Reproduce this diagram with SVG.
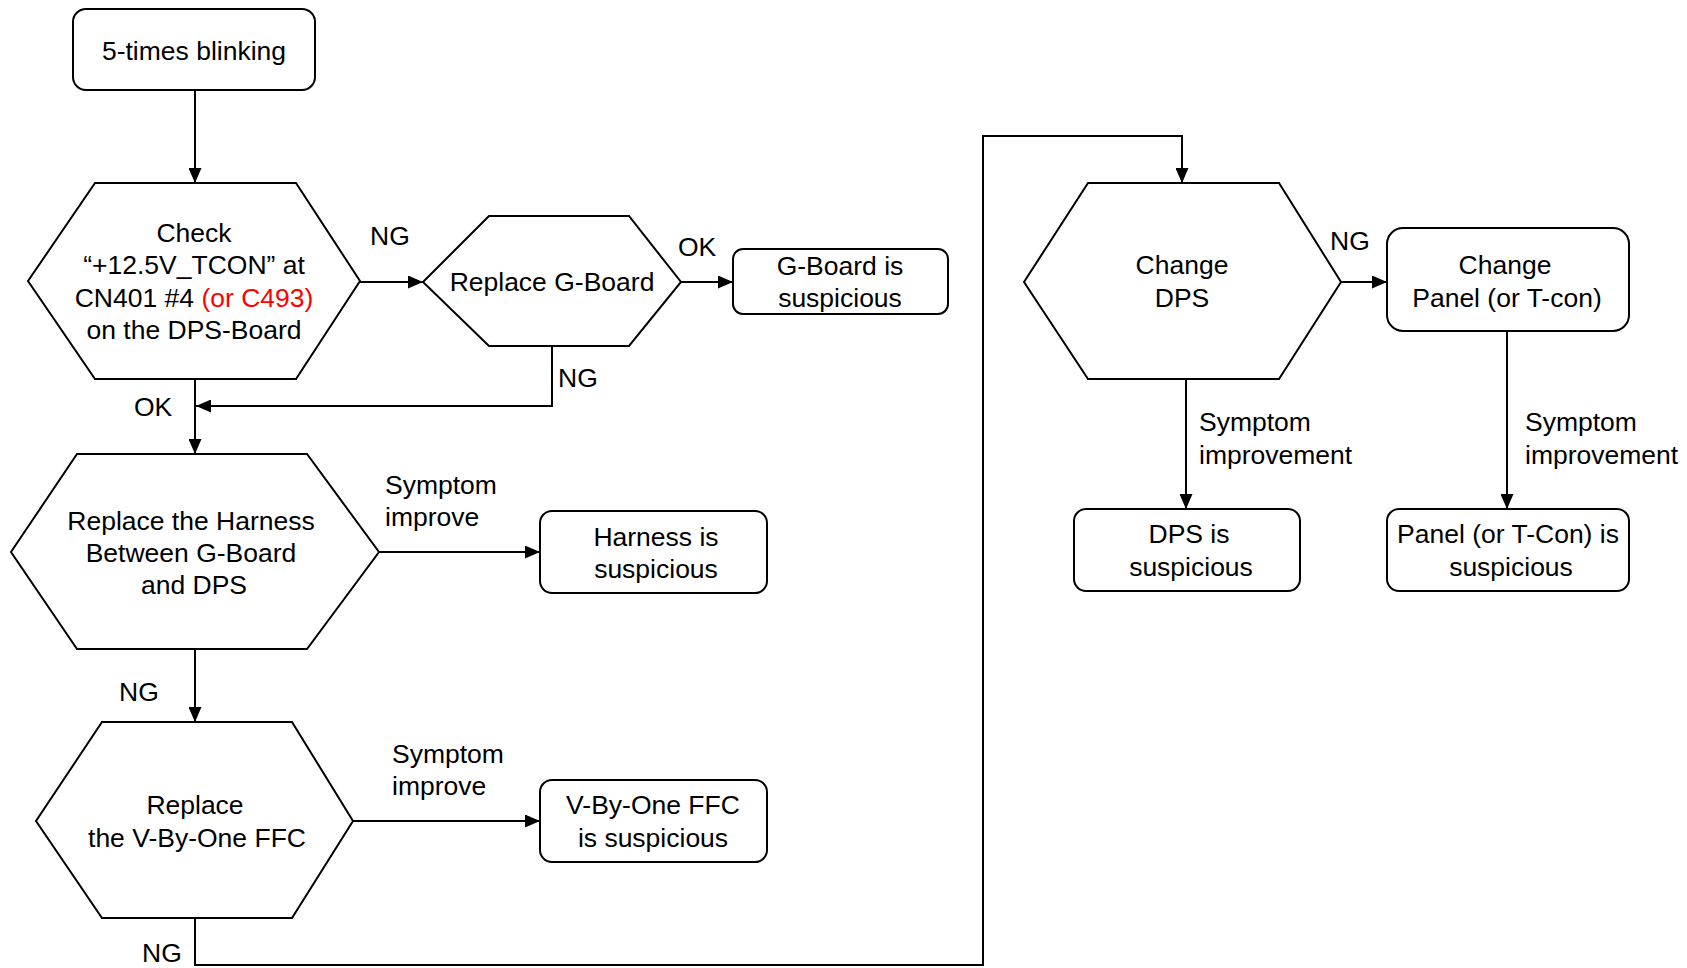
<svg xmlns="http://www.w3.org/2000/svg" width="1687" height="968" viewBox="0 0 1687 968">
<style>
.s{fill:#fff;stroke:#000;stroke-width:2}
.c{fill:none;stroke:#000;stroke-width:2}
text{font-family:"Liberation Sans",Arial,sans-serif;font-size:26.5px;fill:#000}
.m{text-anchor:middle}
.red{fill:#ff0000}
</style>
<defs>
<marker id="arr" markerWidth="15" markerHeight="13" refX="15" refY="6.5" orient="auto" markerUnits="userSpaceOnUse"><path d="M0,0 L15,6.5 L0,13 z" fill="#000"/></marker>
</defs>
<rect width="1687" height="968" fill="#fff"/>
<g id="connectors">
<path class="c" d="M195,90 V183" marker-end="url(#arr)"/>
<path class="c" d="M360,282 H423" marker-end="url(#arr)"/>
<path class="c" d="M681,282 H733" marker-end="url(#arr)"/>
<path class="c" d="M552,346 V406 H196" marker-end="url(#arr)"/>
<path class="c" d="M195,379 V454" marker-end="url(#arr)"/>
<path class="c" d="M379,552 H540" marker-end="url(#arr)"/>
<path class="c" d="M195,649 V722" marker-end="url(#arr)"/>
<path class="c" d="M353,821 H540" marker-end="url(#arr)"/>
<path class="c" d="M195,918 V965 H983 V136 H1182 V183" marker-end="url(#arr)"/>
<path class="c" d="M1341,282 H1387" marker-end="url(#arr)"/>
<path class="c" d="M1186,379 V509" marker-end="url(#arr)"/>
<path class="c" d="M1507,331 V509" marker-end="url(#arr)"/>
<text x="370" y="245">NG</text>
<text x="678" y="256">OK</text>
<text x="558" y="387">NG</text>
<text x="134" y="416">OK</text>
<text x="385" y="494">Symptom</text>
<text x="385" y="526">improve</text>
<text x="119" y="701">NG</text>
<text x="392" y="763">Symptom</text>
<text x="392" y="795">improve</text>
<text x="142" y="962">NG</text>
<text x="1330" y="250">NG</text>
<text x="1199" y="431">Symptom</text>
<text x="1199" y="464">improvement</text>
<text x="1525" y="431">Symptom</text>
<text x="1525" y="464">improvement</text>
</g>
<g id="start">
<rect class="s" x="73" y="9" width="242" height="81" rx="13"/>
<text class="m" x="194" y="60">5-times blinking</text>
</g>
<g id="check">
<polygon class="s" points="95,183 296,183 360,281 296,379 95,379 28,281"/>
<text class="m" x="194" y="242">Check</text>
<text class="m" x="194" y="274">“+12.5V_TCON” at</text>
<text class="m" x="194" y="307">CN401 #4 <tspan class="red">(or C493)</tspan></text>
<text class="m" x="194" y="339">on the DPS-Board</text>
</g>
<g id="replace-gboard">
<polygon class="s" points="489,216 629,216 681,282 629,346 489,346 423,282"/>
<text class="m" x="552" y="291">Replace G-Board</text>
</g>
<g id="gboard-suspicious">
<rect class="s" x="733" y="249" width="215" height="65" rx="10"/>
<text class="m" x="840" y="275">G-Board is</text>
<text class="m" x="840" y="307">suspicious</text>
</g>
<g id="replace-harness">
<polygon class="s" points="77,454 307,454 379,552 307,649 77,649 11,552"/>
<text class="m" x="191" y="530">Replace the Harness</text>
<text class="m" x="191" y="562">Between G-Board</text>
<text class="m" x="194" y="594">and DPS</text>
</g>
<g id="harness-suspicious">
<rect class="s" x="540" y="511" width="227" height="82" rx="12"/>
<text class="m" x="656" y="546">Harness is</text>
<text class="m" x="656" y="578">suspicious</text>
</g>
<g id="replace-vbo">
<polygon class="s" points="102,722 292,722 353,821 292,918 102,918 36,821"/>
<text class="m" x="195" y="814">Replace</text>
<text class="m" x="197" y="847">the V-By-One FFC</text>
</g>
<g id="vbo-suspicious">
<rect class="s" x="540" y="780" width="227" height="82" rx="12"/>
<text class="m" x="653" y="814">V-By-One FFC</text>
<text class="m" x="653" y="847">is suspicious</text>
</g>
<g id="change-dps">
<polygon class="s" points="1088,183 1279,183 1341,282 1279,379 1088,379 1024,282"/>
<text class="m" x="1182" y="274">Change</text>
<text class="m" x="1182" y="307">DPS</text>
</g>
<g id="change-panel">
<rect class="s" x="1387" y="228" width="242" height="103" rx="16"/>
<text class="m" x="1505" y="274">Change</text>
<text class="m" x="1507" y="307">Panel (or T-con)</text>
</g>
<g id="dps-suspicious">
<rect class="s" x="1074" y="509" width="226" height="82" rx="12"/>
<text class="m" x="1189" y="543">DPS is</text>
<text class="m" x="1191" y="576">suspicious</text>
</g>
<g id="panel-suspicious">
<rect class="s" x="1387" y="509" width="242" height="82" rx="12"/>
<text class="m" x="1508" y="543">Panel (or T-Con) is</text>
<text class="m" x="1511" y="576">suspicious</text>
</g>
</svg>
